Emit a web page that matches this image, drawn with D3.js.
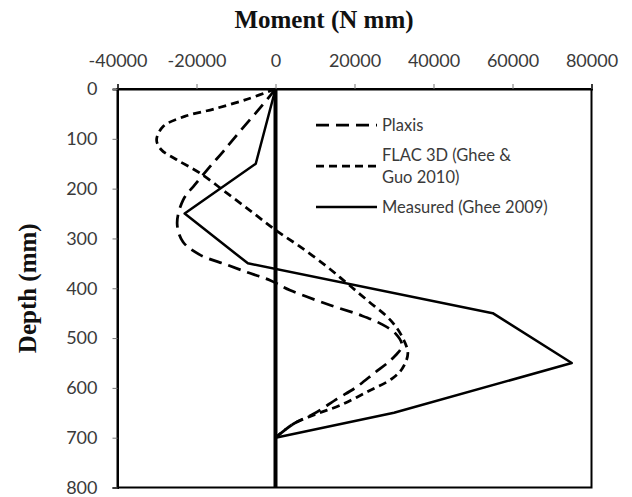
<!DOCTYPE html>
<html>
<head>
<meta charset="utf-8">
<script src="https://cdn.jsdelivr.net/npm/d3@7"></script>
<style>
  html, body { margin: 0; padding: 0; background: #fff; }
  svg { display: block; }
</style>
</head>
<body>
<svg id="chart" width="632" height="497"></svg>
<script>
// ---- data ----
const xTicks = [-40000, -20000, 0, 20000, 40000, 60000, 80000];
const yTicks = [0, 100, 200, 300, 400, 500, 600, 700, 800];

const seriesNames = ["Plaxis", "FLAC 3D (Ghee & Guo 2010)", "Measured (Ghee 2009)"];

const plaxisDepth  = [0, 38, 85, 125, 156, 192, 223, 270, 307, 333, 353, 370, 384, 404, 434, 454, 471, 491, 515, 541, 571, 600, 622, 652, 672, 700];
const plaxisMoment = [0, -3900, -9000, -13200, -16600, -20400, -23400, -24900, -23400, -19100, -12300, -6400, -1400, 3700, 13900, 21500, 26600, 30400, 32000, 29600, 24900, 20200, 15600, 9700, 4600, 0];

const flacDepth  = [0, 20, 40, 55, 75, 102, 122, 142, 169, 209, 249, 283, 317, 357, 390, 424, 464, 498, 531, 561, 581, 608, 635, 652, 672, 700];
const flacMoment = [0, -7000, -15500, -23000, -28400, -30100, -28900, -25000, -19100, -12300, -5600, 0, 6300, 13100, 18100, 23200, 29100, 32100, 33500, 32100, 29600, 23200, 16400, 10500, 4600, 0];

const measuredDepth  = [0, 150, 250, 350, 450, 550, 650, 700];
const measuredMoment = [0, -5000, -23000, -7000, 55000, 75000, 30000, 0];

const zeroLineDepth = [0, 800];
const zeroLineMoment = [0, 0];

// ---- layout ----
const svg = d3.select("#chart");
const L = 117.5, R = 591.5, T = 89, B = 487.5;

const x = d3.scaleLinear().domain([-40000, 80000]).range([L, R]);
const y = d3.scaleLinear().domain([0, 800]).range([T, B]);

const tickFont = "Lato, 'Open Sans', sans-serif";
const serifFont = "'Liberation Serif', 'DejaVu Serif', serif";

// plot area border
svg.append("rect")
  .attr("x", L).attr("y", T).attr("width", R - L).attr("height", B - T)
  .attr("fill", "none").attr("stroke", "#000").attr("stroke-width", 2);

// axes
const fmt = d => String(d);
const xAxis = svg.append("g").attr("transform", `translate(0,${T})`)
  .call(d3.axisTop(x).tickValues(xTicks).tickSize(5).tickPadding(17).tickFormat(fmt));
const yAxis = svg.append("g").attr("transform", `translate(${L},0)`)
  .call(d3.axisLeft(y).tickValues(yTicks).tickSize(5).tickPadding(15).tickFormat(fmt));

[xAxis, yAxis].forEach(g => {
  g.select(".domain").attr("stroke", "#000").attr("stroke-width", 2);
  g.selectAll(".tick line").attr("stroke", "#777").attr("stroke-width", 1);
  g.selectAll(".tick text").attr("fill", "#3a3a3a")
    .style("font-family", tickFont).style("font-size", "18px");
});

// zero line
const line = d3.line().x(d => x(d[1])).y(d => y(d[0]));
svg.append("path")
  .attr("d", line(zeroLineDepth.map((d, i) => [d, zeroLineMoment[i]])))
  .attr("stroke", "#000").attr("stroke-width", 4).attr("fill", "none");

// series
const smooth = d3.line().x(d => x(d[1])).y(d => y(d[0])).curve(d3.curveCatmullRom.alpha(0.5));
const styles = [
  { dash: "13,7", width: 2.75 },
  { dash: "8,5", width: 2.75 },
  { dash: null, width: 2.5 }
];
const seriesData = [
  plaxisDepth.map((d, i) => [d, plaxisMoment[i]]),
  flacDepth.map((d, i) => [d, flacMoment[i]]),
  measuredDepth.map((d, i) => [d, measuredMoment[i]])
];
seriesData.forEach((data, i) => {
  svg.append("path")
    .attr("d", (i < 2 ? smooth : line)(data))
    .attr("fill", "none").attr("stroke", "#000")
    .attr("stroke-width", styles[i].width)
    .attr("stroke-dasharray", styles[i].dash)
    .attr("stroke-linejoin", "round");
});

// legend
const legendY = [125, 166, 207];
const legendLines = [["Plaxis"], ["FLAC 3D (Ghee &", "Guo 2010)"], ["Measured (Ghee 2009)"]];
const lg = svg.append("g");
legendY.forEach((ly, i) => {
  lg.append("line").attr("x1", 316).attr("x2", 377).attr("y1", ly).attr("y2", ly)
    .attr("stroke", "#000").attr("stroke-width", styles[i].width)
    .attr("stroke-dasharray", styles[i].dash);
  const lines = legendLines[i];
  const t = lg.append("text").attr("x", 382)
    .attr("fill", "#3a3a3a").style("font-family", tickFont).style("font-size", "16.5px");
  lines.forEach((s, k) => {
    t.append("tspan").attr("x", 382)
      .attr("y", ly + (k - (lines.length - 1) / 2) * 22)
      .attr("dy", "0.35em").text(s);
  });
});

// titles
svg.append("text").attr("x", 324).attr("y", 28).attr("text-anchor", "middle")
  .style("font-family", serifFont).style("font-weight", "bold").style("font-size", "25px")
  .attr("fill", "#111").text("Moment (N mm)");
svg.append("text").attr("transform", `translate(36,${(T + B) / 2}) rotate(-90)`)
  .attr("text-anchor", "middle")
  .style("font-family", serifFont).style("font-weight", "bold").style("font-size", "25px")
  .attr("fill", "#111").text("Depth (mm)");
</script>
</body>
</html>
